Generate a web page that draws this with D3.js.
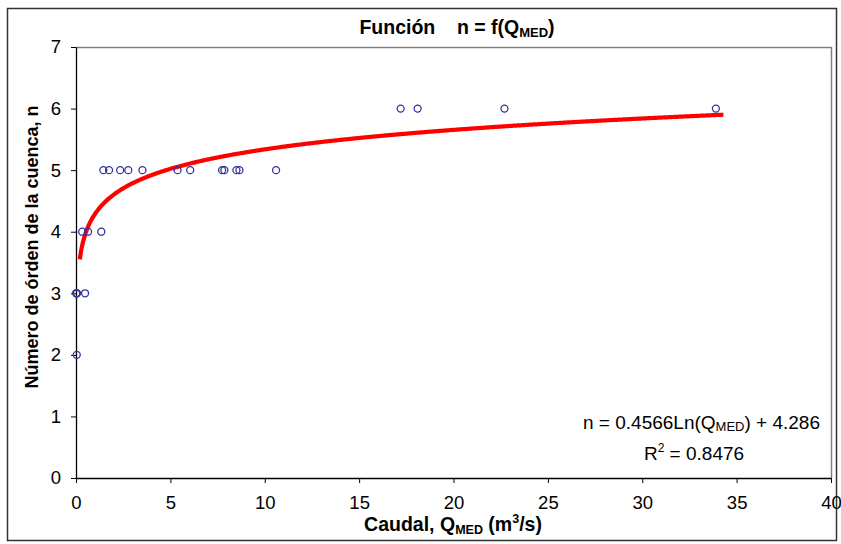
<!DOCTYPE html>
<html>
<head>
<meta charset="utf-8">
<script src="https://cdn.jsdelivr.net/npm/d3@7"></script>
<style>
  body { margin: 0; background: #fff; }
  text { font-family: "Liberation Sans", Arial, sans-serif; }
</style>
</head>
<body>
<svg id="chart" width="841" height="544"></svg>
<script>
// caudal medio (m3/s) y numero de orden de la cuenca
var caudal = [0.01, 0.03, 0.05, 0.48, 0.04, 0.33, 0.64, 1.34, 1.45, 1.75, 2.34, 2.77, 3.52, 5.38, 6.05, 7.74, 7.86, 8.5, 8.66, 10.6, 17.2, 18.1, 22.7, 33.9];
var orden = [3, 3, 3, 3, 2, 4, 4, 4, 5, 5, 5, 5, 5, 5, 5, 5, 5, 5, 5, 5, 6, 6, 6, 6];

// trendline n = a*ln(Q) + b, drawn over the span excel shows
var fitA = 0.4566, fitB = 4.286, fitR2 = 0.8476;
var fitFrom = 0.2, fitTo = 34.3;

var xTicks = [0, 5, 10, 15, 20, 25, 30, 35, 40];
var yTicks = [0, 1, 2, 3, 4, 5, 6, 7];

var svg = d3.select('#chart');
var margin = {top: 47, left: 76};
var plotRight = 831, plotBottom = 478;

// outer frame
svg.append('rect')
    .attr('x', 7.5).attr('y', 8.5)
    .attr('width', 829).attr('height', 532)
    .attr('fill', 'white')
    .attr('stroke', '#333')
    .attr('stroke-width', 1.5);

var x = d3.scaleLinear().domain([0, 40]).range([margin.left, plotRight]);
var y = d3.scaleLinear().domain([0, 7]).range([plotBottom, margin.top]);

// plot area border (grey top/right)
svg.append('path')
    .attr('d', 'M' + margin.left + ',' + (margin.top + 0.5) + 'H' + (plotRight + 0.5) + 'V' + plotBottom)
    .attr('fill', 'none')
    .attr('stroke', '#808080')
    .attr('stroke-width', 1.5);

var gX = svg.append('g')
    .attr('transform', 'translate(0,' + plotBottom + ')')
    .call(d3.axisBottom(x).tickValues(xTicks).tickSize(5).tickSizeOuter(0).tickPadding(13).tickFormat(d3.format('d')));

var gY = svg.append('g')
    .attr('transform', 'translate(' + margin.left + ',0)')
    .call(d3.axisLeft(y).tickValues(yTicks).tickSize(5).tickSizeOuter(0).tickPadding(10).tickFormat(d3.format('d')));

[gX, gY].forEach(function(g) {
  g.select('.domain').attr('stroke', '#000').attr('stroke-width', 1.3);
  g.selectAll('.tick line').attr('stroke', '#000');
  g.selectAll('.tick text')
      .attr('fill', '#000')
      .attr('font-size', 18.5)
      .style('font-family', '"Liberation Sans", Arial, sans-serif');
});

// trendline
var fitPts = d3.range(fitFrom, fitTo, 0.05).concat([fitTo]);
var line = d3.line()
    .x(function(d) { return x(d); })
    .y(function(d) { return y(fitA * Math.log(d) + fitB); });

svg.append('path')
    .datum(fitPts)
    .attr('d', line)
    .attr('fill', 'none')
    .attr('stroke', '#ff0000')
    .attr('stroke-width', 4.2)
    .attr('stroke-linejoin', 'round');

// puntos
svg.selectAll('.dot')
    .data(caudal)
    .enter()
    .append('circle')
      .attr('class', 'dot')
      .attr('cx', function(d) { return x(d); })
      .attr('cy', function(d, i) { return y(orden[i]); })
      .attr('r', 3.5)
      .attr('fill', 'none')
      .attr('stroke', '#33339a')
      .attr('stroke-width', 1.3);

// titulo
var title = svg.append('text')
    .attr('x', 457).attr('y', 34)
    .attr('text-anchor', 'middle')
    .attr('font-size', 19.5)
    .attr('font-weight', 'bold')
    .style('white-space', 'pre');
title.append('tspan').text('Función    n = f(Q');
title.append('tspan').attr('font-size', 13).attr('dy', 3).text('MED');
title.append('tspan').attr('dy', -3).text(')');

// eje x
var xLabel = svg.append('text')
    .attr('x', 453).attr('y', 531)
    .attr('text-anchor', 'middle')
    .attr('font-size', 19.5)
    .attr('font-weight', 'bold');
xLabel.append('tspan').text('Caudal, Q');
xLabel.append('tspan').attr('font-size', 12.5).attr('dy', 3).text('MED');
xLabel.append('tspan').attr('dy', -3).text(' (m');
xLabel.append('tspan').attr('font-size', 12.5).attr('dy', -8).text('3');
xLabel.append('tspan').attr('dy', 8).text('/s)');

// eje y
svg.append('text')
    .attr('transform', 'translate(38,247) rotate(-90)')
    .attr('text-anchor', 'middle')
    .attr('font-size', 18)
    .attr('font-weight', 'bold')
    .text('Número de órden de la cuenca, n');

// ecuacion
var eq = svg.append('text')
    .attr('x', 820).attr('y', 429)
    .attr('text-anchor', 'end')
    .attr('font-size', 19);
eq.append('tspan').text('n = ' + fitA + 'Ln(Q');
eq.append('tspan').attr('font-size', 13).attr('dy', 2).text('MED');
eq.append('tspan').attr('dy', -2).text(') + ' + fitB);

var r2 = svg.append('text')
    .attr('x', 694).attr('y', 460)
    .attr('text-anchor', 'middle')
    .attr('font-size', 19);
r2.append('tspan').text('R');
r2.append('tspan').attr('font-size', 12).attr('dy', -8).text('2');
r2.append('tspan').attr('dy', 8).text(' = ' + fitR2);
</script>
</body>
</html>
